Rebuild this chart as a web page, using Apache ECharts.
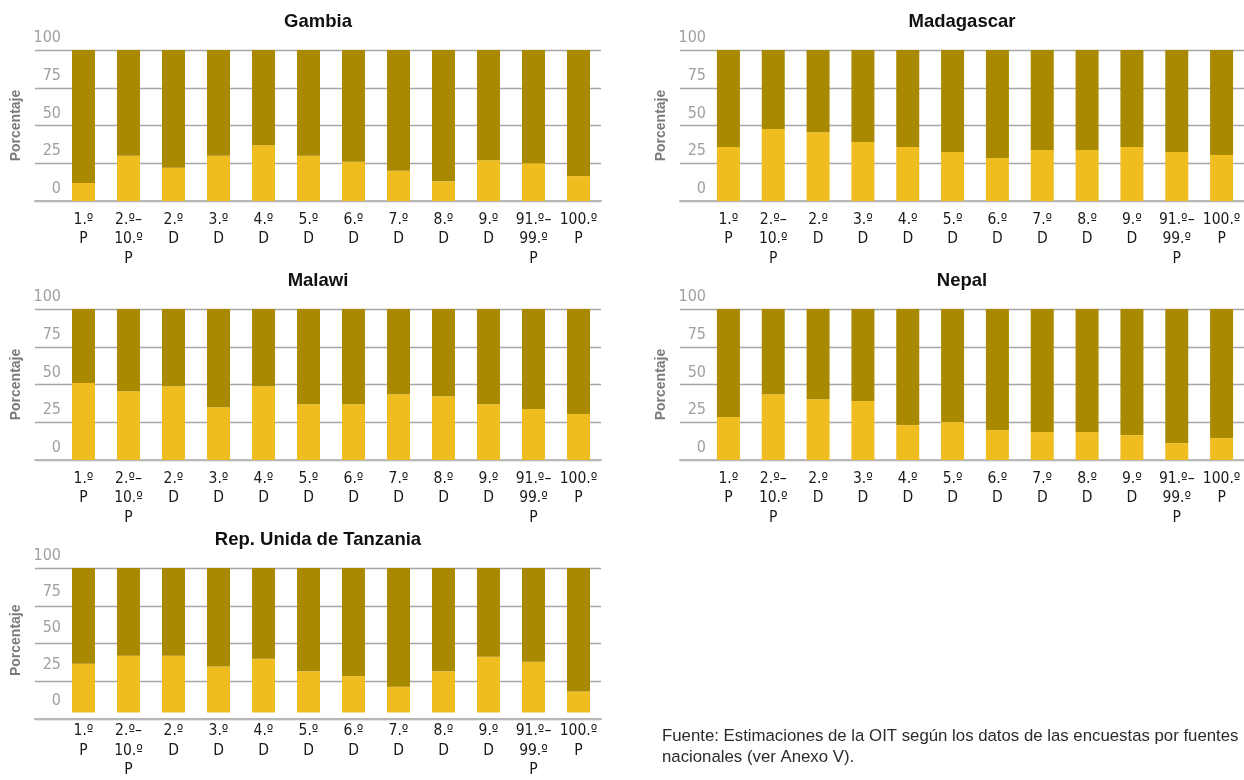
<!DOCTYPE html>
<html>
<head>
<meta charset="utf-8">
<script src="https://cdn.jsdelivr.net/npm/echarts@6/dist/echarts.min.js"></script>
<style>
  html, body { margin: 0; padding: 0; background: #ffffff; }
  #chart { width: 1244px; height: 780px; }
</style>
</head>
<body>
<div id="chart"></div>
<script>
// Percentile / decile groups along the income distribution
const categories = ['1.º\nP', '2.º–\n10.º\nP', '2.º\nD', '3.º\nD', '4.º\nD', '5.º\nD',
                    '6.º\nD', '7.º\nD', '8.º\nD', '9.º\nD', '91.º–\n99.º\nP', '100.º\nP'];

// Value axis ticks (percentage)
const yTicks = [0, 25, 50, 75, 100];

const countries = ['Gambia', 'Madagascar', 'Malawi', 'Nepal', 'Rep. Unida de Tanzania'];

// Share (%) shown in the light segment of each bar; the dark segment completes 100 %
const gambia     = [12, 30, 22, 30, 37, 30, 26, 20, 13, 27, 25, 16.5];
const madagascar = [35.7, 47.6, 45.6, 39, 35.7, 32.4, 28.4, 33.7, 33.7, 35.7, 32.4, 30.4];
const malawi     = [51, 45.6, 48.9, 35, 48.9, 37, 37, 43.6, 42.3, 37, 33.7, 30.4];
const nepal      = [28.4, 43.6, 40.3, 39, 23.1, 25.1, 19.8, 18.5, 18.5, 16.5, 11.2, 14.5];
const tanzania   = [33.8, 39.2, 39.2, 31.9, 37.2, 28.5, 25.2, 17.9, 28.5, 38.5, 35.2, 14.6];

const seriesValues = [gambia, madagascar, malawi, nepal, tanzania];

const sourceNote = 'Fuente: Estimaciones de la OIT según los datos de las encuestas por fuentes\nnacionales (ver Anexo V).';

const LIGHT = '#EFBD1F';
const DARK = '#A98900';
const NARROW = "'Liberation Sans Narrow', 'DejaVu Sans Condensed', 'Liberation Sans', sans-serif";
const SANS = "'Liberation Sans', Arial, sans-serif";

// Panel frames: left/top of the gridline box
const panels = [
  { x: 35,  y: 50,  w: 566 },
  { x: 680, y: 50,  w: 564 },
  { x: 35,  y: 309, w: 566 },
  { x: 680, y: 309, w: 564 },
  { x: 35,  y: 568, w: 566 }
];
const PLOT_H = 151;
const CAT_OFFSET = 26;
const CAT_W = 540;

const option = {
  animation: false,
  backgroundColor: '#ffffff',
  title: [],
  grid: [],
  xAxis: [],
  yAxis: [],
  series: [],
  graphic: [{
    type: 'text',
    left: 662,
    top: 726,
    style: {
      text: sourceNote,
      font: '16.8px ' + SANS,
      fill: '#2b2b2b',
      lineHeight: 21
    }
  }]
};

panels.forEach((p, i) => {
  const gLines = i * 2;
  const gBars = i * 2 + 1;

  option.title.push({
    text: countries[i],
    left: p.x + p.w / 2,
    top: p.y - 38,
    textAlign: 'center',
    padding: 0,
    textStyle: { fontFamily: SANS, fontWeight: 'bold', fontSize: 18.5, color: '#111' }
  });

  // Gridline frame (spans slightly left of the category area)
  option.grid.push({ left: p.x, top: p.y, width: p.w, height: PLOT_H });
  // Bar area
  option.grid.push({ left: p.x + CAT_OFFSET, top: p.y, width: CAT_W, height: PLOT_H });

  option.xAxis.push({
    type: 'category', gridIndex: gLines, data: categories,
    axisLine: { show: true, lineStyle: { color: '#b8b8b8', width: 2 } },
    axisTick: { show: false }, axisLabel: { show: false }, splitLine: { show: false }
  });
  option.xAxis.push({
    type: 'category', gridIndex: gBars, data: categories,
    axisLine: { show: false }, axisTick: { show: false },
    axisLabel: {
      interval: 0, margin: 9, color: '#1a1a1a',
      fontFamily: NARROW, fontSize: 15.5, lineHeight: 19.5
    }
  });

  option.yAxis.push({
    type: 'value', gridIndex: gLines,
    min: yTicks[0], max: yTicks[yTicks.length - 1], interval: yTicks[1] - yTicks[0],
    axisLine: { show: false }, axisTick: { show: false }, axisLabel: { show: false },
    splitLine: { show: true, lineStyle: { color: '#a6a6a6', width: 1.3 } }
  });
  option.yAxis.push({
    type: 'value', gridIndex: gBars,
    min: yTicks[0], max: yTicks[yTicks.length - 1], interval: yTicks[1] - yTicks[0],
    name: 'Porcentaje', nameLocation: 'middle', nameGap: 38,
    nameTextStyle: { fontFamily: SANS, fontWeight: 'bold', fontSize: 14, color: '#7a7a7a' },
    axisLine: { show: false }, axisTick: { show: false }, splitLine: { show: false },
    axisLabel: {
      margin: 0, color: '#a0a0a0', fontFamily: NARROW, fontSize: 16,
      verticalAlign: 'bottom', padding: [0, 0, 4, 0]
    }
  });

  const vals = seriesValues[i];
  option.series.push({
    type: 'bar', xAxisIndex: gBars, yAxisIndex: gBars, stack: 'total' + i,
    barWidth: 23, itemStyle: { color: LIGHT },
    data: vals
  });
  option.series.push({
    type: 'bar', xAxisIndex: gBars, yAxisIndex: gBars, stack: 'total' + i,
    barWidth: 23, itemStyle: { color: DARK },
    data: vals.map(v => +(100 - v).toFixed(1))
  });
});

const chart = echarts.init(document.getElementById('chart'), null, { renderer: 'canvas' });
chart.setOption(option);
</script>
</body>
</html>
